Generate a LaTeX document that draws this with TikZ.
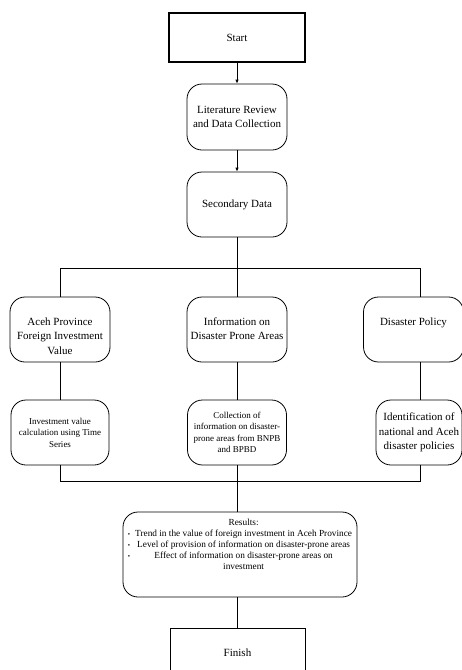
\documentclass[tikz,border=0pt]{standalone}
\usepackage{fontspec}
\setmainfont{Liberation Serif}
\usetikzlibrary{arrows.meta}
\newcommand{\toptext}[1]{\parbox[c][58pt][t]{94pt}{\vspace*{17pt}\centering #1}}
\newcommand{\bul}{\scalebox{0.7}{\textbullet}}
\begin{document}
\begin{tikzpicture}[x=1pt,y=-1pt,
  sbox/.style={draw, line width=0.8pt, align=center, inner sep=2pt},
  rbox/.style={draw, line width=0.8pt, rounded corners=15pt, align=center, inner sep=2pt},
  big/.style={font=\fontsize{11}{14.5}\selectfont},
  small/.style={font=\fontsize{9}{11.5}\selectfont},
  conn/.style={line width=0.8pt},
  arr/.style={line width=0.8pt, -{Latex[length=4pt,width=3.5pt]}}]
\useasboundingbox (0,0) rectangle (462,670);
\fill[white] (0,0) rectangle (462,670);
\clip (0,0) rectangle (462,670);

\node[sbox, big, line width=1.3pt, minimum width=136pt, minimum height=49pt] (start) at (237,37.5) {Start};
\node[rbox, big, minimum width=100pt, minimum height=66pt] (lit) at (237,117) {Literature Review\\and Data Collection};
\node[rbox, big, minimum width=100pt, minimum height=65pt] (sec) at (237,204.5) {Secondary Data};

\node[rbox, big, minimum width=98pt, minimum height=65pt, inner sep=3pt] (lt1) at (60,329.5) {\toptext{Aceh Province\\Foreign Investment\\Value}};
\node[rbox, big, minimum width=99pt, minimum height=65pt, inner sep=3pt] (mid1) at (237,329.5) {\toptext{Information on\\Disaster Prone Areas}};
\node[rbox, big, minimum width=97pt, minimum height=65pt, inner sep=3pt] (rt1) at (413.5,329.5) {\toptext{Disaster Policy}};

\node[rbox, small, minimum width=98pt, minimum height=65pt] (lt2) at (60,432.5) {Investment value\\calculation using Time\\Series};
\node[rbox, small, minimum width=99pt, minimum height=65pt] (mid2) at (237,432.5) {Collection of\\information on disaster-\\prone areas from BNPB\\and BPBD};
\node[rbox, big, minimum width=86pt, minimum height=65pt, inner sep=1pt] (rt2) at (419,432.5) {Identification of\\national and Aceh\\disaster policies};

\node[rbox, font=\fontsize{9.3}{11.5}\selectfont, minimum width=234pt, minimum height=85pt, inner sep=2pt] (res) at (240,554.5) {%
  \parbox[c][79pt][t]{228pt}{\vspace*{2pt}\centering
  \begin{tabular}{@{}l@{\hspace{5pt}}c@{}}
   & Results:\\[0pt]
  \bul & Trend in the value of foreign investment in Aceh Province\\[-0.6pt]
  \bul & Level of provision of information on disaster-prone areas\\[-0.6pt]
  \bul & Effect of information on disaster-prone areas on\\[0pt]
   & investment
  \end{tabular}}};
\node[sbox, big, minimum width=135pt, minimum height=64pt] (fin) at (237.5,660) {\raisebox{14pt}{Finish}};

\coordinate (tl) at (60,268);
\coordinate (tm) at (237,268);
\coordinate (tr) at (420,268);
\coordinate (bl) at (60,481);
\coordinate (br) at (420,481);

\draw[arr] (start) -- (lit);
\draw[arr] (lit) -- (sec);
\draw[conn] (sec.south) -- (mid1.north);
\draw[conn] (tl |- lt1.north) -- (tl) -- (tr) -- (tr |- rt1.north);
\draw[conn] (lt1) -- (lt2);
\draw[conn] (mid1) -- (mid2);
\draw[conn] (tr |- rt1.south) -- (tr |- rt2.north);
\draw[conn] (lt2.south) -- (bl) -- (br) -- (br |- rt2.south);
\draw[conn] (mid2.south) -- (mid2.south |- res.north);
\draw[conn] (mid2.south |- res.south) -- (mid2.south |- fin.north);
\end{tikzpicture}
\end{document}
